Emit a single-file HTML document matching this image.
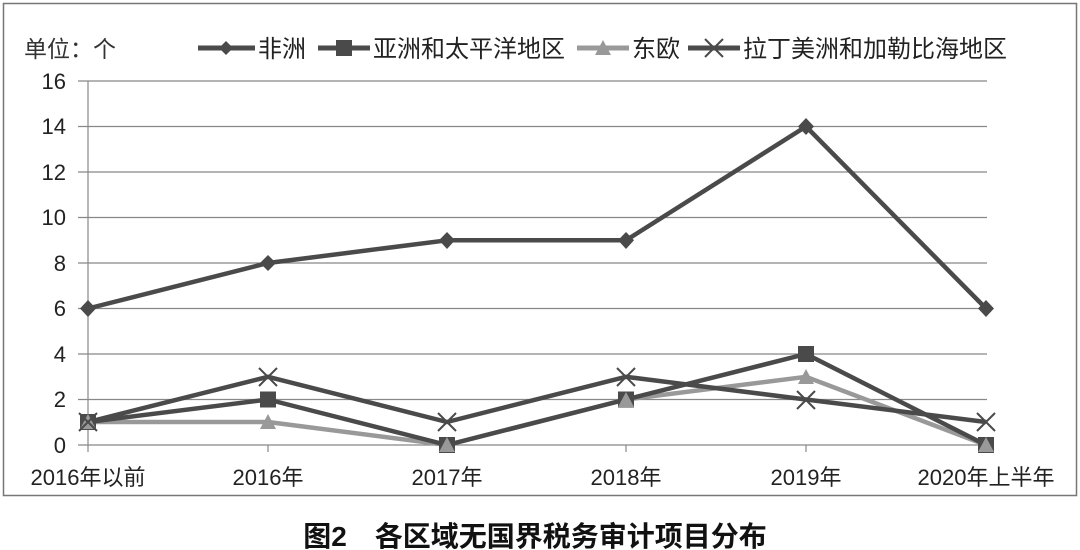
<!DOCTYPE html>
<html><head><meta charset="utf-8"><style>
body{margin:0;background:#fff;}
svg{display:block;font-family:"Liberation Sans","Noto Sans CJK SC",sans-serif;}
</style></head><body>
<svg width="1080" height="550" viewBox="0 0 1080 550" xmlns="http://www.w3.org/2000/svg">
<rect x="3.5" y="3.5" width="1073" height="492" fill="#fff" stroke="#777" stroke-width="1.5"/>
<g stroke="#888" stroke-width="1.2">
<line x1="78" y1="81" x2="987" y2="81"/>
<line x1="78" y1="126.5" x2="987" y2="126.5"/>
<line x1="78" y1="172" x2="987" y2="172"/>
<line x1="78" y1="217.5" x2="987" y2="217.5"/>
<line x1="78" y1="263" x2="987" y2="263"/>
<line x1="78" y1="308.5" x2="987" y2="308.5"/>
<line x1="78" y1="354" x2="987" y2="354"/>
<line x1="78" y1="399.5" x2="987" y2="399.5"/>
<line x1="78" y1="445" x2="987" y2="445"/>
<line x1="88" y1="81" x2="88" y2="452"/>
<line x1="268" y1="445" x2="268" y2="452"/><line x1="447" y1="445" x2="447" y2="452"/>
<line x1="626" y1="445" x2="626" y2="452"/><line x1="806" y1="445" x2="806" y2="452"/>
<line x1="986" y1="445" x2="986" y2="452"/>
</g>
<g font-size="22" fill="#222" text-anchor="end">
<text x="66" y="89">16</text><text x="66" y="134">14</text><text x="66" y="180">12</text>
<text x="66" y="225">10</text><text x="66" y="271">8</text><text x="66" y="316">6</text>
<text x="66" y="362">4</text><text x="66" y="407">2</text><text x="66" y="453">0</text>
</g>
<g font-size="22" fill="#222" text-anchor="middle">
<text x="88" y="485">2016年以前</text><text x="268" y="485">2016年</text>
<text x="447" y="485">2017年</text><text x="626" y="485">2018年</text>
<text x="806" y="485">2019年</text><text x="986" y="485">2020年上半年</text>
</g>
<text x="24" y="57" font-size="23" fill="#333">单位：个</text>
<g stroke-width="5" fill="none">
<line x1="198" y1="48" x2="255" y2="48" stroke="#4a4a4a"/>
<line x1="318" y1="48" x2="370" y2="48" stroke="#4a4a4a"/>
<line x1="577" y1="48" x2="629" y2="48" stroke="#999"/>
<line x1="688" y1="48" x2="740" y2="48" stroke="#4a4a4a"/>
</g>
<polygon points="226,41 233,48 226,55 219,48" fill="#4a4a4a"/>
<rect x="336" y="40" width="16" height="16" fill="#4a4a4a"/>
<polygon points="603,40 611,55 595,55" fill="#999"/>
<path d="M705,39 L723,57 M723,39 L705,57" stroke="#4a4a4a" stroke-width="2"/>
<g font-size="24" fill="#222">
<text x="258" y="57">非洲</text><text x="373" y="57">亚洲和太平洋地区</text>
<text x="632" y="57">东欧</text><text x="743" y="57">拉丁美洲和加勒比海地区</text>
</g>
<g fill="none" stroke-width="4.5" stroke-linejoin="round">
<polyline stroke="#999" points="88,422 268,422 447,445 626,399.5 806,376.8 986,445"/>
<polyline stroke="#4a4a4a" points="88,422 268,376.8 447,422 626,376.8 806,399.5 986,422"/>
<polyline stroke="#4a4a4a" points="88,422 268,399.5 447,445 626,399.5 806,354 986,445"/>
<polyline stroke="#4a4a4a" points="88,308.5 268,263 447,240.3 626,240.3 806,126.5 986,308.5"/>
</g>
<g fill="#4a4a4a">
<polygon points="88,300 96,308.5 88,317 80,308.5"/><polygon points="268,255 276,263 268,271 260,263"/>
<polygon points="447,232 455,240.3 447,249 439,240.3"/><polygon points="626,232 634,240.3 626,249 618,240.3"/>
<polygon points="806,118 814,126.5 806,135 798,126.5"/><polygon points="986,300 994,308.5 986,317 978,308.5"/>
<rect x="80" y="414" width="16" height="16"/><rect x="260" y="391.5" width="16" height="16"/>
<rect x="439" y="437" width="16" height="16"/><rect x="618" y="391.5" width="16" height="16"/>
<rect x="798" y="346" width="16" height="16"/><rect x="978" y="437" width="16" height="16"/>
</g>
<g fill="#999">
<polygon points="88,414 96,429 80,429"/><polygon points="268,414 276,429 260,429"/>
<polygon points="447,437 455,452 439,452"/><polygon points="626,392 634,407 618,407"/>
<polygon points="806,369 814,384 798,384"/><polygon points="986,437 994,452 978,452"/>
</g>
<g stroke="#4a4a4a" stroke-width="2">
<path d="M79,413 L97,431 M97,413 L79,431"/><path d="M259,368 L277,386 M277,368 L259,386"/>
<path d="M438,413 L456,431 M456,413 L438,431"/><path d="M617,368 L635,386 M635,368 L617,386"/>
<path d="M797,391 L815,409 M815,391 L797,409"/><path d="M977,413 L995,431 M995,413 L977,431"/>
</g>
<text x="535" y="546" font-size="28" font-weight="bold" fill="#111" text-anchor="middle">图2　各区域无国界税务审计项目分布</text>
</svg>
</body></html>
